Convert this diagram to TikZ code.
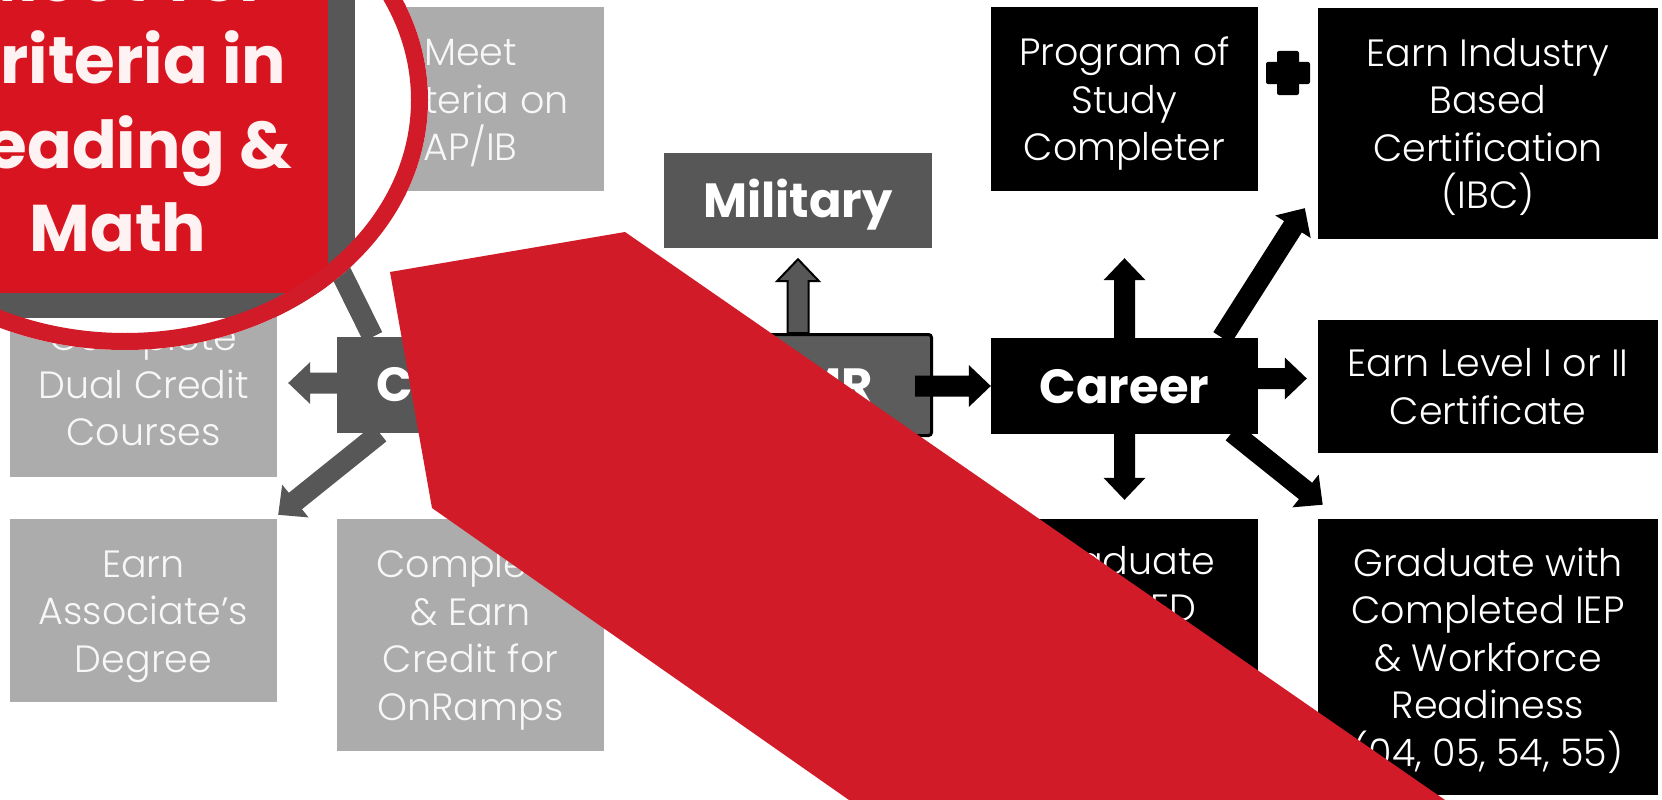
\documentclass[tikz,border=0pt]{standalone}
\usepackage{fontspec}
\setmainfont{Poppins}
\newfontfamily\poplight{Poppins Light}
\usetikzlibrary{calc}
\definecolor{lgray}{HTML}{ACACAC}
\definecolor{dgray}{HTML}{575757}
\definecolor{cgray}{HTML}{5C5C5C}
\definecolor{lensred}{HTML}{D21B29}
\definecolor{tsired}{HTML}{D7141F}
\definecolor{txtw}{HTML}{F7F7F7}
\definecolor{lenstxtc}{HTML}{FFF2F2}

\newcommand\myTopStrut{\rule{0pt}{40pt}}
\newcommand\myTitleStrut{\rule{0pt}{47pt}}
\newcommand\myBotStrut{\rule[-12pt]{0pt}{0pt}}

\newcommand\barrow[3][]{%
  \path[#1] let \p1=(#2), \p2=(#3),
    \n1={atan2(\y2-\y1,\x2-\x1)}, \n2={veclen(\x2-\x1,\y2-\y1)} in
    [shift={(\p1)}, rotate=\n1]
    (0pt,-10.5pt) -- ({\n2*1pt-22pt},-10.5pt) -- ({\n2*1pt-22pt},-21pt)
    -- ({\n2*1pt},0pt) -- ({\n2*1pt-22pt},21pt) -- ({\n2*1pt-22pt},10.5pt)
    -- (0pt,10.5pt) -- cycle;
}

\tikzset{
  wh/.style 2 args={minimum width=#1pt, minimum height=#2pt},
  box/.style={rectangle, inner sep=0pt, align=center, text=txtw,
    font=\poplight\fontsize{38}{47.5}\selectfont},
  lbox/.style={box, fill=lgray},
  dbox/.style={box, fill=dgray, text=white, font=\bfseries\fontsize{48}{56}\selectfont},
  kbox/.style={box, fill=black, text=white},
  ktitle/.style={kbox, font=\bfseries\fontsize{48}{56}\selectfont},
  txtonly/.style={inner sep=0pt, align=center, text=white, font=\poplight\fontsize{38}{47.5}\selectfont},
  garrow/.style={fill=dgray},
  marrow/.style={fill=dgray, draw=black, line width=2pt, line join=miter},
  karrow/.style={fill=black},
  lenstxt/.style={anchor=base, inner sep=0pt, text=lenstxtc, font=\bfseries\fontsize{66}{84}\selectfont},
}

\begin{document}
\begin{tikzpicture}[x=1pt,y=-1pt]
\useasboundingbox (0,0) rectangle (1662,800);
\clip (0,0) rectangle (1662,800);
\fill[white] (0,0) rectangle (1662,800);

% College column
\node[box, fill=tsired, wh={267}{184}] (tsi) at (143.5,99) {};
\node[lbox, wh={267}{184}] (meet) at (470.5,99) {\myTopStrut Meet\\Criteria on\\AP/IB\myBotStrut};
\node[lbox, wh={267}{186}] (dual) at (143.5,384) {\myTopStrut Complete\\Dual Credit\\Courses\myBotStrut};
\node[lbox, wh={267}{183}] (assoc) at (143.5,610.5) {\myTopStrut Earn\\Associate’s\\Degree\myBotStrut};
\node[dbox, wh={267}{96}] (college) at (470.5,385) {\myTitleStrut College\myBotStrut};
\node[lbox, wh={267}{232}] (onramps) at (470.5,635) {\myTopStrut Complete\\\& Earn\\Credit for\\OnRamps\myBotStrut};

% Middle
\node[dbox, wh={268}{95}] (military) at (798,200.5) {\myTitleStrut Military\myBotStrut};
\node[dbox, fill=cgray, draw=black, line width=3pt, rounded corners=3pt, wh={266}{101}] (ccmr) at (798.5,385) {\myTitleStrut CCMR\myBotStrut};

% Career column
\node[kbox, wh={267}{184}] (pos) at (1124.5,99) {\myTopStrut Program of\\Study\\Completer\myBotStrut};
\node[ktitle, wh={267}{96}] (career) at (1124.5,386) {\myTitleStrut Career\myBotStrut};
\node[kbox, wh={267}{232}] (grad) at (1124.5,635) {};
\node[txtonly, anchor=north] (gradtxt) at ($(grad.north)+(0,27)$) {Graduate\\as SPED};
\node[kbox, wh={340}{231}] (ibc) at (1488,123.5) {\myTopStrut Earn Industry\\Based\\Certification\\(IBC)\myBotStrut};
\node[kbox, wh={340}{133}] (level) at (1488,386.5) {\myTopStrut Earn Level I or II\\Certificate\myBotStrut};
\node[kbox, wh={340}{276}] (iep) at (1488,657) {\myTopStrut Graduate with\\Completed IEP\\\& Workforce\\Readiness\\(04, 05, 54, 55)\myBotStrut};

% plus sign
\coordinate (plus) at ($(pos.east)!0.5!(ibc.west |- pos.east)+(0,-26)$);
\fill[black, rounded corners=2pt] ($(plus)+(-22,-11)$) rectangle ($(plus)+(22,11)$);
\fill[black, rounded corners=2pt] ($(plus)+(-11,-22)$) rectangle ($(plus)+(11,22)$);

% arrow end points
\coordinate (tDual) at ($(dual.east)+(11,-1)$);
\coordinate (sDual) at (college.west |- tDual);
\coordinate (sAssoc) at ($(college.south west)+(43,0)$);
\coordinate (tAssoc) at ($(assoc.north east)+(1,-4)$);
\coordinate (sTsi) at ($(college.north west)+(36,0)$);
\coordinate (tTsi) at ($(tsi.south east)+(28,9)$);
\coordinate (tMil) at ($(military.south)+(0,11)$);
\coordinate (sMil) at (ccmr.north -| tMil);
\coordinate (sCar) at ($(ccmr.east)+(-18,1)$);
\coordinate (tCar) at (career.west |- sCar);
\coordinate (tPos) at ($(pos.south)+(0,67)$);
\coordinate (sIbc) at ($(career.north east)+(-36,0)$);
\coordinate (tIbc) at ($(ibc.south west)+(-13,-31)$);
\coordinate (tLev) at ($(level.west)+(-11,-8)$);
\coordinate (sLev) at (career.east |- tLev);
\coordinate (tGrad) at ($(grad.north)+(0,-19)$);
\coordinate (sIep) at ($(career.south east)+(-26,-2)$);
\coordinate (tIep) at ($(iep.north west)+(5,-14)$);

% arrows
\barrow[garrow]{sDual}{tDual}
\barrow[garrow]{sAssoc}{tAssoc}
\barrow[garrow]{sTsi}{tTsi}
\barrow[marrow]{sMil}{tMil}
\barrow[karrow]{sCar}{tCar}
\barrow[karrow]{career.north}{tPos}
\barrow[karrow]{sIbc}{tIbc}
\barrow[karrow]{sLev}{tLev}
\barrow[karrow]{career.south}{tGrad}
\barrow[karrow]{sIep}{tIep}

% red band
\fill[lensred] (390,272) -- (625,232) -- (1445,800) -- (849,800) -- (432,508) -- cycle;

% magnifier lens
\begin{scope}
  \clip (125,100) ellipse [x radius=303, y radius=250];
  \fill[white] (-200,-200) rectangle (450,380);
  \fill[dgray] (-200,-200) rectangle (355,318);
  \fill[tsired] (-200,-200) rectangle (328,293);
  \node[lenstxt] (z1) at (118,2) {Meet TSI};
  \node[lenstxt] (z2) at (118,84) {Criteria in};
  \node[lenstxt] (z3) at (118,168) {Reading \&};
  \node[lenstxt] (z4) at (118,251) {Math};
\end{scope}
\draw[lensred, line width=17pt] (125,100) ellipse [x radius=294.5, y radius=241.5];
\end{tikzpicture}
\end{document}
